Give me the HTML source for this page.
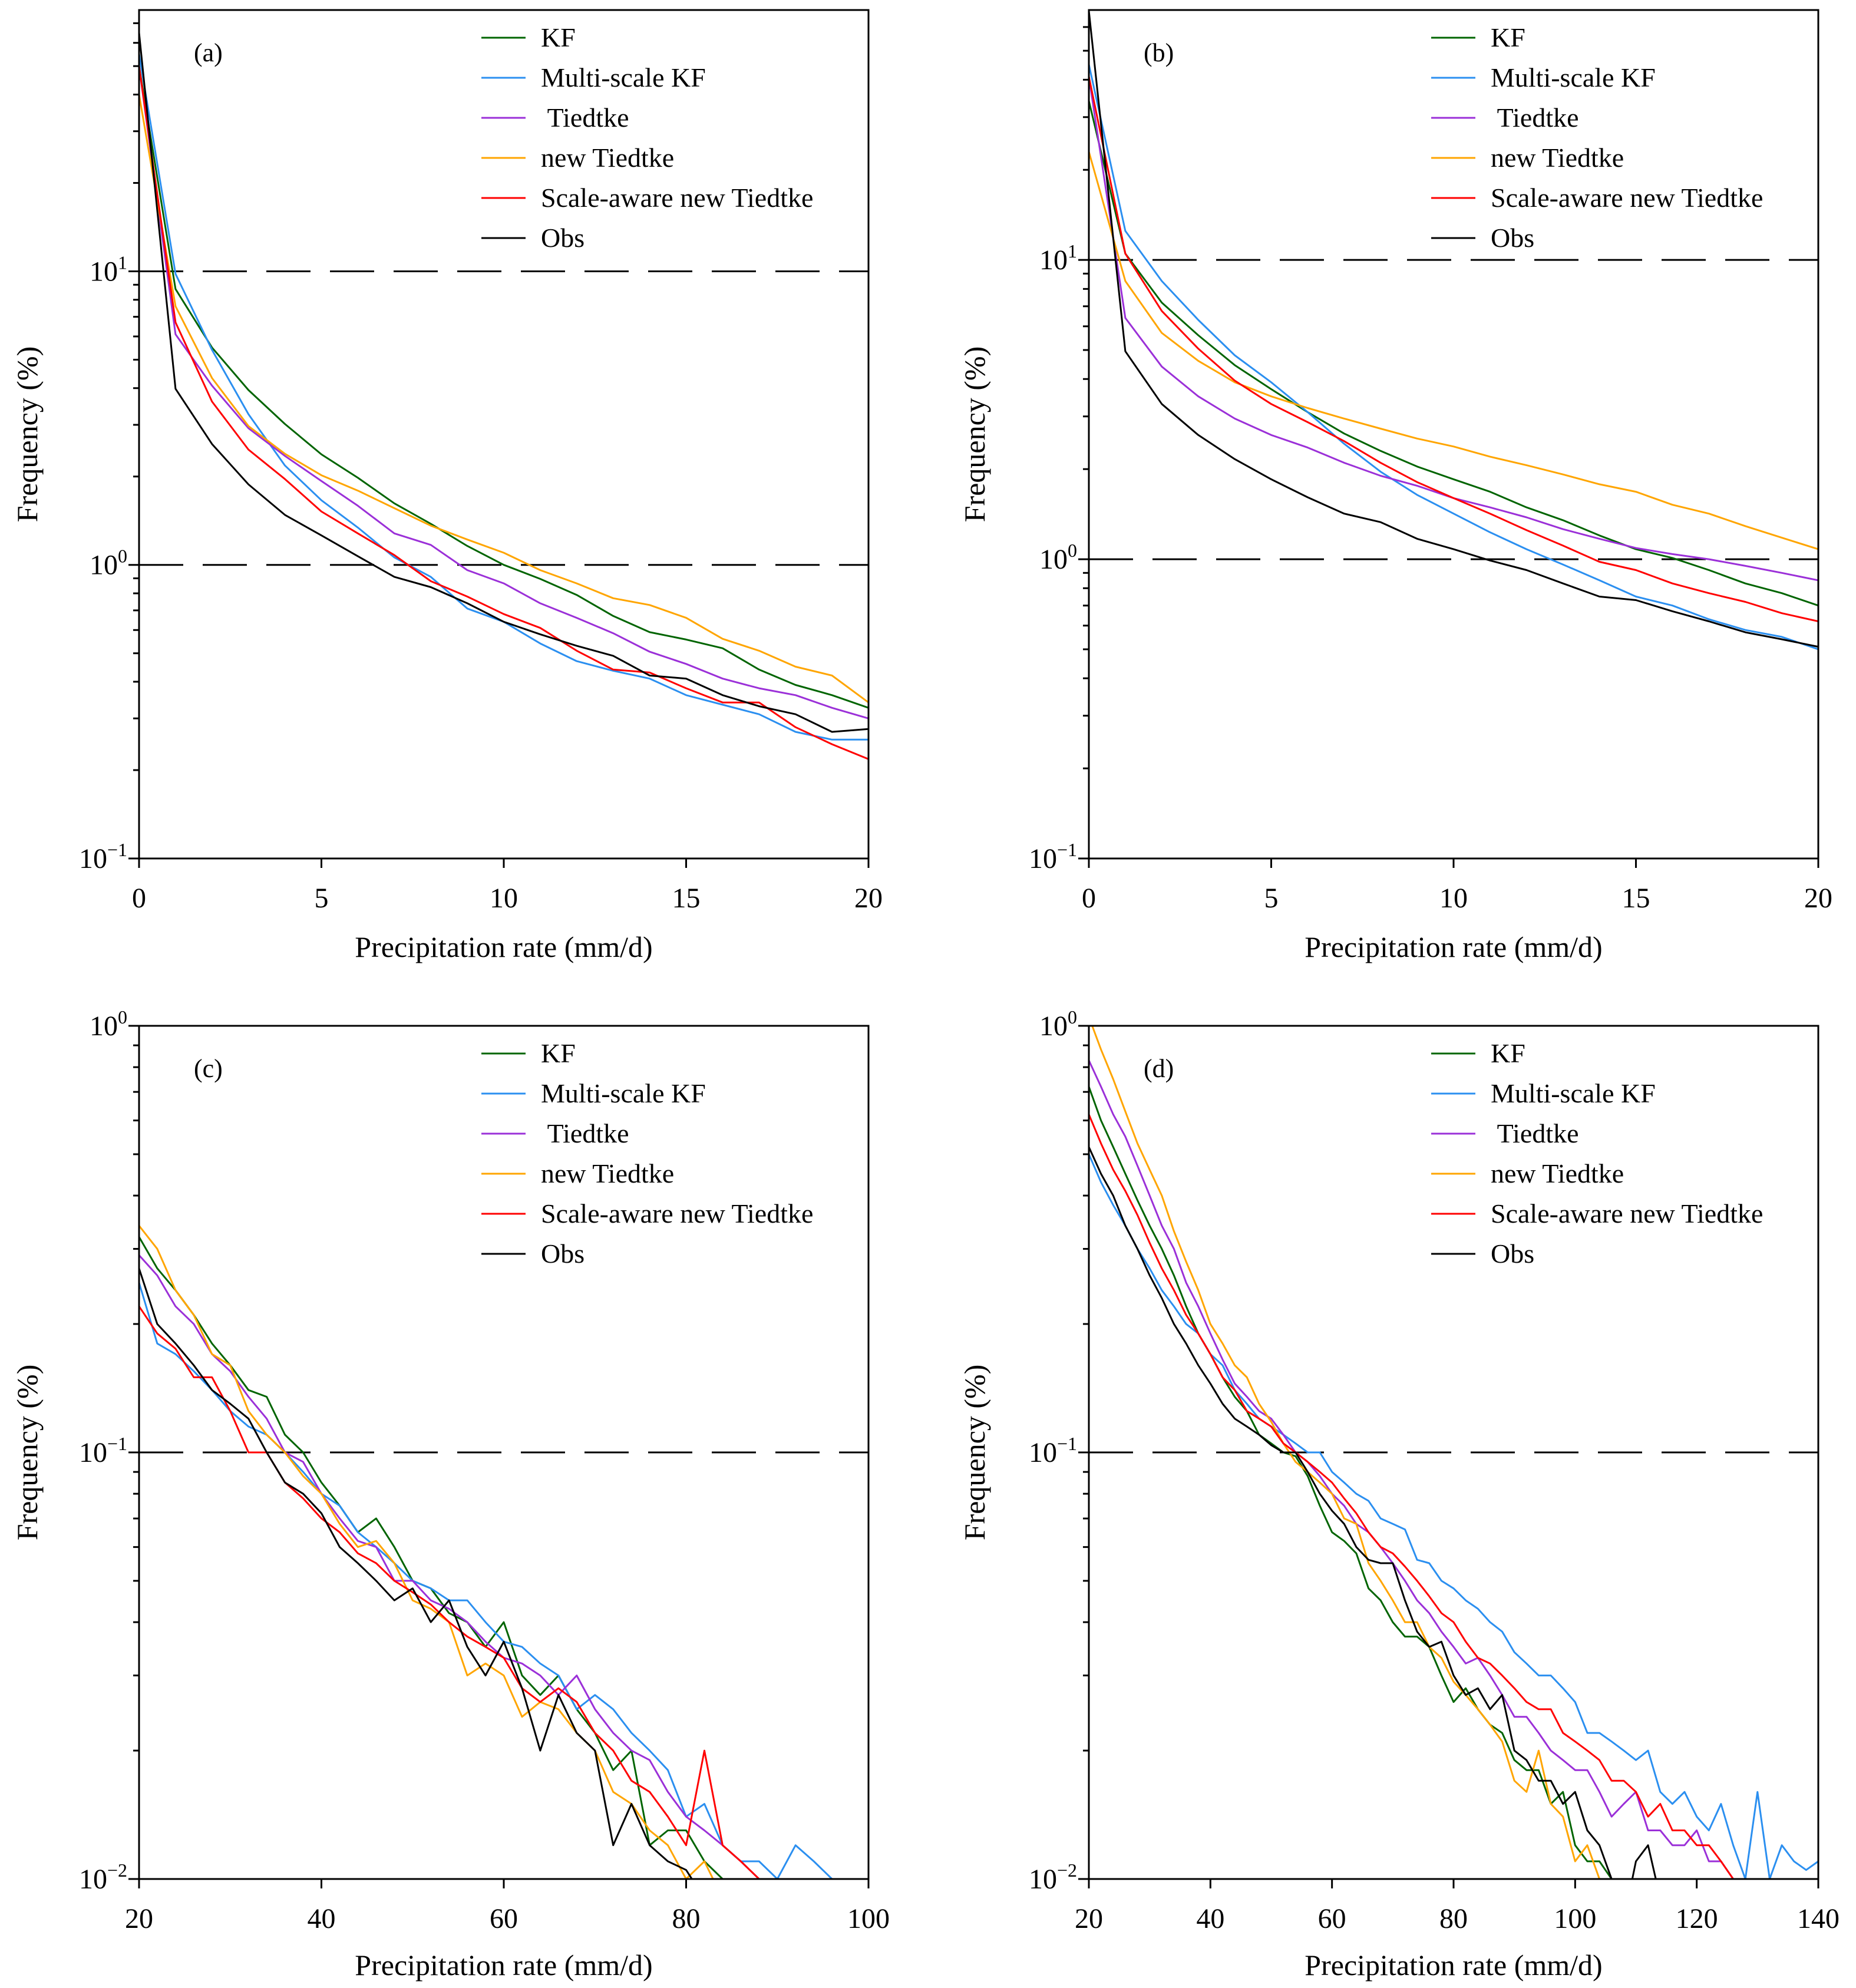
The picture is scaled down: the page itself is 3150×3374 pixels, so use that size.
<!DOCTYPE html>
<html><head><meta charset="utf-8"><style>
html,body{margin:0;padding:0;background:#fff}
svg{display:block}
svg text{font-family:"Liberation Serif","Times New Roman",serif}
</style></head><body>
<svg id="chart" width="3150" height="3374" viewBox="0 0 3150 3374" xmlns="http://www.w3.org/2000/svg" font-family="Liberation Serif, serif"></svg>
<script>
const seriesNames = ["KF","Multi-scale KF"," Tiedtke","new Tiedtke","Scale-aware new Tiedtke","Obs"];
const seriesColors = ["#006400","#2b8ff0","#9b30d8","#ffa500","#ff0000","#000000"];
const seriesKeys = ["kf","multi-kf","tiedtke","new-tiedtke","scale-aware","obs"];

// Panel (a): x = 0..20
const xA = [0,1,2,3,4,5,6,7,8,9,10,11,12,13,14,15,16,17,18,19,20];
const aKF = [50,8.7,5.5,3.94,3.02,2.38,1.98,1.62,1.38,1.16,1.0,0.896,0.79,0.67,0.59,0.557,0.52,0.44,0.39,0.36,0.326];
const aMulti = [55,9.8,5.4,3.26,2.18,1.66,1.34,1.06,0.91,0.71,0.64,0.54,0.47,0.436,0.41,0.36,0.334,0.31,0.27,0.254,0.254];
const aTied = [50,6.1,4.08,2.92,2.35,1.93,1.59,1.28,1.17,0.96,0.865,0.74,0.66,0.585,0.506,0.46,0.41,0.38,0.36,0.326,0.3];
const aNew = [40,7.6,4.33,2.97,2.39,2.02,1.79,1.56,1.36,1.22,1.1,0.96,0.865,0.77,0.73,0.66,0.56,0.51,0.45,0.42,0.34];
const aScale = [50,6.7,3.6,2.47,1.96,1.52,1.28,1.08,0.88,0.78,0.68,0.61,0.51,0.44,0.43,0.38,0.34,0.34,0.28,0.245,0.218];
const aObs = [65,3.98,2.58,1.88,1.48,1.26,1.07,0.91,0.84,0.74,0.64,0.58,0.53,0.49,0.42,0.41,0.36,0.33,0.31,0.27,0.276];

// Panel (b): x = 0..20
const xB = [0,1,2,3,4,5,6,7,8,9,10,11,12,13,14,15,16,17,18,19,20];
const bKF = [34,10.5,7.2,5.6,4.45,3.7,3.1,2.63,2.3,2.04,1.85,1.68,1.49,1.35,1.2,1.08,1.01,0.92,0.83,0.77,0.7];
const bMulti = [45,12.5,8.5,6.3,4.8,3.9,3.1,2.43,1.96,1.64,1.42,1.23,1.08,0.96,0.85,0.75,0.7,0.63,0.58,0.55,0.5];
const bTied = [41,6.4,4.4,3.5,2.95,2.6,2.36,2.1,1.9,1.76,1.6,1.49,1.38,1.26,1.17,1.09,1.04,1.0,0.95,0.9,0.85];
const bNew = [23,8.5,5.7,4.6,3.9,3.5,3.2,2.95,2.73,2.53,2.38,2.2,2.06,1.92,1.78,1.68,1.52,1.42,1.29,1.18,1.08];
const bScale = [41,10.5,6.75,5.05,3.95,3.3,2.87,2.48,2.1,1.81,1.6,1.42,1.25,1.11,0.98,0.92,0.83,0.77,0.72,0.66,0.62];
const bObs = [68,4.95,3.3,2.6,2.16,1.85,1.61,1.42,1.33,1.17,1.08,0.99,0.92,0.83,0.75,0.73,0.67,0.62,0.57,0.54,0.51];

// Panel (c): x = 20..100 step 2
const xC = [20,22,24,26,28,30,32,34,36,38,40,42,44,46,48,50,52,54,56,58,60,62,64,66,68,70,72,74,76,78,80,82,84,86,88,90,92,94,96,98,100];
const cKF = [0.32,0.27,0.24,0.21,0.18,0.16,0.14,0.135,0.11,0.1,0.085,0.075,0.065,0.07,0.06,0.05,0.048,0.042,0.04,0.035,0.04,0.03,0.027,0.03,0.025,0.022,0.018,0.02,0.012,0.013,0.013,0.011,0.01,0.0095,0.01,0.009,0.008,0.008,0.008,0.008,0.008];
const cMulti = [0.25,0.18,0.17,0.155,0.14,0.125,0.115,0.11,0.1,0.09,0.08,0.075,0.065,0.06,0.055,0.05,0.048,0.045,0.045,0.04,0.036,0.035,0.032,0.03,0.025,0.027,0.025,0.022,0.02,0.018,0.014,0.015,0.012,0.011,0.011,0.01,0.012,0.011,0.01,0.009,0.01];
const cTied = [0.29,0.26,0.22,0.2,0.17,0.155,0.135,0.12,0.1,0.095,0.08,0.07,0.062,0.06,0.05,0.05,0.045,0.043,0.04,0.036,0.033,0.032,0.03,0.027,0.03,0.025,0.022,0.02,0.019,0.016,0.014,0.013,0.012,0.011,0.01,0.01,0.0095,0.009,0.01,0.0085,0.008];
const cNew = [0.34,0.3,0.24,0.21,0.17,0.16,0.125,0.11,0.1,0.088,0.08,0.068,0.06,0.062,0.055,0.045,0.043,0.04,0.03,0.032,0.03,0.024,0.026,0.025,0.022,0.02,0.016,0.015,0.013,0.012,0.01,0.011,0.009,0.009,0.008,0.008,0.008,0.008,0.008,0.008,0.008];
const cScale = [0.22,0.19,0.175,0.15,0.15,0.125,0.1,0.1,0.085,0.078,0.07,0.065,0.058,0.055,0.05,0.047,0.044,0.04,0.037,0.035,0.033,0.028,0.026,0.028,0.026,0.022,0.02,0.017,0.016,0.014,0.012,0.02,0.012,0.011,0.01,0.01,0.0095,0.009,0.01,0.008,0.008];
const cObs = [0.27,0.2,0.18,0.16,0.14,0.13,0.12,0.1,0.085,0.08,0.072,0.06,0.055,0.05,0.045,0.048,0.04,0.045,0.035,0.03,0.036,0.028,0.02,0.027,0.022,0.02,0.012,0.015,0.012,0.011,0.0105,0.009,0.008,0.008,0.008,0.008,0.008,0.008,0.008,0.008,0.008];

// Panel (d): x = 20..140 step 2
const xD = [20,22,24,26,28,30,32,34,36,38,40,42,44,46,48,50,52,54,56,58,60,62,64,66,68,70,72,74,76,78,80,82,84,86,88,90,92,94,96,98,100,102,104,106,108,110,112,114,116,118,120,122,124,126,128,130,132,134,136,138,140];
const dKF = [0.72,0.6,0.52,0.45,0.39,0.34,0.3,0.26,0.22,0.19,0.17,0.15,0.135,0.125,0.11,0.105,0.1,0.098,0.088,0.075,0.065,0.062,0.058,0.048,0.045,0.04,0.037,0.037,0.035,0.03,0.026,0.028,0.025,0.023,0.022,0.019,0.018,0.018,0.015,0.016,0.012,0.011,0.011,0.01,0.01,0.01,0.008,0.008,0.008,0.008,0.008,0.008,0.008,0.008,0.008,0.008,0.008,0.008,0.008,0.008,0.008];
const dMulti = [0.5,0.43,0.38,0.34,0.3,0.27,0.24,0.22,0.2,0.19,0.17,0.16,0.14,0.13,0.12,0.115,0.11,0.105,0.1,0.1,0.09,0.085,0.08,0.077,0.07,0.068,0.066,0.056,0.055,0.05,0.048,0.045,0.043,0.04,0.038,0.034,0.032,0.03,0.03,0.028,0.026,0.022,0.022,0.021,0.02,0.019,0.02,0.016,0.015,0.016,0.014,0.013,0.015,0.012,0.01,0.016,0.01,0.012,0.011,0.0105,0.011];
const dTied = [0.83,0.72,0.62,0.55,0.47,0.4,0.34,0.3,0.25,0.22,0.19,0.165,0.145,0.135,0.125,0.12,0.11,0.1,0.095,0.088,0.08,0.075,0.068,0.065,0.06,0.055,0.05,0.045,0.042,0.038,0.035,0.032,0.033,0.03,0.027,0.024,0.024,0.022,0.02,0.019,0.018,0.018,0.016,0.014,0.015,0.016,0.013,0.013,0.012,0.012,0.013,0.011,0.011,0.01,0.008,0.0095,0.01,0.0095,0.008,0.008,0.008];
const dNew = [1.05,0.88,0.75,0.63,0.53,0.46,0.4,0.33,0.28,0.24,0.2,0.18,0.16,0.15,0.13,0.118,0.105,0.095,0.09,0.085,0.08,0.07,0.068,0.055,0.05,0.045,0.04,0.04,0.035,0.033,0.029,0.027,0.025,0.023,0.021,0.017,0.016,0.02,0.015,0.014,0.011,0.012,0.01,0.01,0.009,0.0095,0.008,0.008,0.008,0.008,0.008,0.008,0.008,0.008,0.008,0.008,0.008,0.008,0.008,0.008,0.008];
const dScale = [0.62,0.53,0.46,0.41,0.36,0.31,0.27,0.24,0.21,0.19,0.17,0.15,0.14,0.125,0.12,0.115,0.105,0.1,0.095,0.09,0.085,0.078,0.072,0.065,0.06,0.058,0.054,0.05,0.046,0.042,0.04,0.036,0.033,0.032,0.03,0.028,0.026,0.025,0.025,0.022,0.021,0.02,0.019,0.017,0.017,0.016,0.014,0.015,0.013,0.013,0.012,0.012,0.011,0.01,0.0095,0.01,0.0095,0.009,0.008,0.008,0.008];
const dObs = [0.52,0.45,0.4,0.34,0.3,0.26,0.23,0.2,0.18,0.16,0.145,0.13,0.12,0.115,0.11,0.104,0.1,0.1,0.09,0.08,0.073,0.068,0.06,0.056,0.055,0.055,0.045,0.038,0.035,0.036,0.03,0.027,0.028,0.025,0.027,0.02,0.019,0.017,0.017,0.015,0.016,0.013,0.012,0.01,0.008,0.011,0.012,0.009,0.008,0.008,0.008,0.008,0.008,0.008,0.008,0.008,0.008,0.008,0.008,0.008,0.008];

const xTicksAB = [0,5,10,15,20];
const xTicksC = [20,40,60,80,100];
const xTicksD = [20,40,60,80,100,120,140];

const panels = [
  {id:"a",L:236,R:1474,T:17,B:1457,xmin:0,xmax:20,lmin:-1,lmax:1.89,xs:xA,ys:[aKF,aMulti,aTied,aNew,aScale,aObs],xt:xTicksAB,dash:[1,10],xTitleY:1624,xTickY:1540,yTitleX:47},
  {id:"b",L:1848,R:3086,T:17,B:1457,xmin:0,xmax:20,lmin:-1,lmax:1.835,xs:xB,ys:[bKF,bMulti,bTied,bNew,bScale,bObs],xt:xTicksAB,dash:[1,10],xTitleY:1624,xTickY:1540,yTitleX:1655},
  {id:"c",L:236,R:1474,T:1741,B:3189,xmin:20,xmax:100,lmin:-2,lmax:0,xs:xC,ys:[cKF,cMulti,cTied,cNew,cScale,cObs],xt:xTicksC,dash:[0.1],xTitleY:3352,xTickY:3272,yTitleX:47},
  {id:"d",L:1848,R:3086,T:1741,B:3189,xmin:20,xmax:140,lmin:-2,lmax:0,xs:xD,ys:[dKF,dMulti,dTied,dNew,dScale,dObs],xt:xTicksD,dash:[0.1],xTitleY:3352,xTickY:3272,yTitleX:1655}
];

const NS="http://www.w3.org/2000/svg";
const svg=document.getElementById("chart");
function mk(tag,attrs,parent){const e=document.createElementNS(NS,tag);for(const k in attrs)e.setAttribute(k,attrs[k]);(parent||svg).appendChild(e);return e;}

panels.forEach(p=>{
  const g=mk("g",{});
  
  
  const xs=v=>p.L+(v-p.xmin)/(p.xmax-p.xmin)*(p.R-p.L);
  const ys=v=>p.B-(Math.log10(v)-p.lmin)/(p.lmax-p.lmin)*(p.B-p.T);
  const clipId="clip-"+p.id;
  const cp=mk("clipPath",{id:clipId},g);
  mk("rect",{x:p.L,y:p.T,width:p.R-p.L,height:p.B-p.T},cp);
  p.dash.forEach(v=>{
    const l=mk("line",{x1:p.L,x2:p.R,y1:ys(v),y2:ys(v),stroke:"#000","stroke-width":3,"stroke-dasharray":"75 33"},g);
    
    
  });
  p.ys.forEach((arr,i)=>{
    let d="";
    arr.forEach((v,j)=>{d+=(j?"L":"M")+xs(p.xs[j]).toFixed(1)+","+ys(v).toFixed(1);});
    const path=mk("path",{d:d,fill:"none",stroke:seriesColors[i],"stroke-width":3,"stroke-linejoin":"round","clip-path":"url(#"+clipId+")"},g);
    
    
  });
  const fr=mk("rect",{x:p.L,y:p.T,width:p.R-p.L,height:p.B-p.T,fill:"none",stroke:"#000","stroke-width":3},g);
  
  
  for(let e=Math.floor(p.lmin);e<=Math.ceil(p.lmax);e++){
    for(let m=1;m<=9;m++){
      const v=m*Math.pow(10,e);const lv=Math.log10(v);
      if(lv<p.lmin-1e-6||lv>p.lmax+1e-6)continue;
      const y=ys(v);
      mk("line",{x1:p.L-(m==1?18:10),x2:p.L,y1:y,y2:y,stroke:"#000","stroke-width":3},g);
      if(m==1){
        const t=mk("text",{x:p.L-20,y:y+16,"text-anchor":"end","font-size":48},g);
        
        
        t.textContent="10";
        const s=mk("tspan",{dy:-20,"font-size":32},t);
        s.textContent=(e<0?"\u2212":"")+Math.abs(e);
      }
    }
  }
  p.xt.forEach(v=>{
    const x=xs(v);
    mk("line",{x1:x,x2:x,y1:p.B,y2:p.B+16,stroke:"#000","stroke-width":3},g);
    const t=mk("text",{x:x,y:p.xTickY,"text-anchor":"middle","font-size":48},g);
    
    
    t.textContent=v;
  });
  const xt=mk("text",{x:(p.L+p.R)/2,y:p.xTitleY,"text-anchor":"middle","font-size":50},g);
  
  
  xt.textContent="Precipitation rate (mm/d)";
  const cy=(p.T+p.B)/2;
  const yx=p.yTitleX+16;
  const yt=mk("text",{x:yx,y:cy,"text-anchor":"middle","font-size":50,transform:"rotate(-90 "+yx+" "+cy+")"},g);
  
  
  yt.textContent="Frequency (%)";
  const pl=mk("text",{x:p.L+93,y:p.T+87,"font-size":44},g);
  
  
  pl.textContent="("+p.id+")";
  const lg=mk("g",{},g);
  
  
  seriesNames.forEach((n,i)=>{
    const y=p.T+47+i*68;
    const e=mk("g",{},lg);
    
    
    mk("line",{x1:p.L+581,x2:p.L+656,y1:y,y2:y,stroke:seriesColors[i],"stroke-width":3},e);
    const t=mk("text",{x:p.L+682,y:y+15,"font-size":46},e);
    t.setAttribute("style","white-space:pre");
    t.textContent=n;
  });
});
</script>
</body></html>
